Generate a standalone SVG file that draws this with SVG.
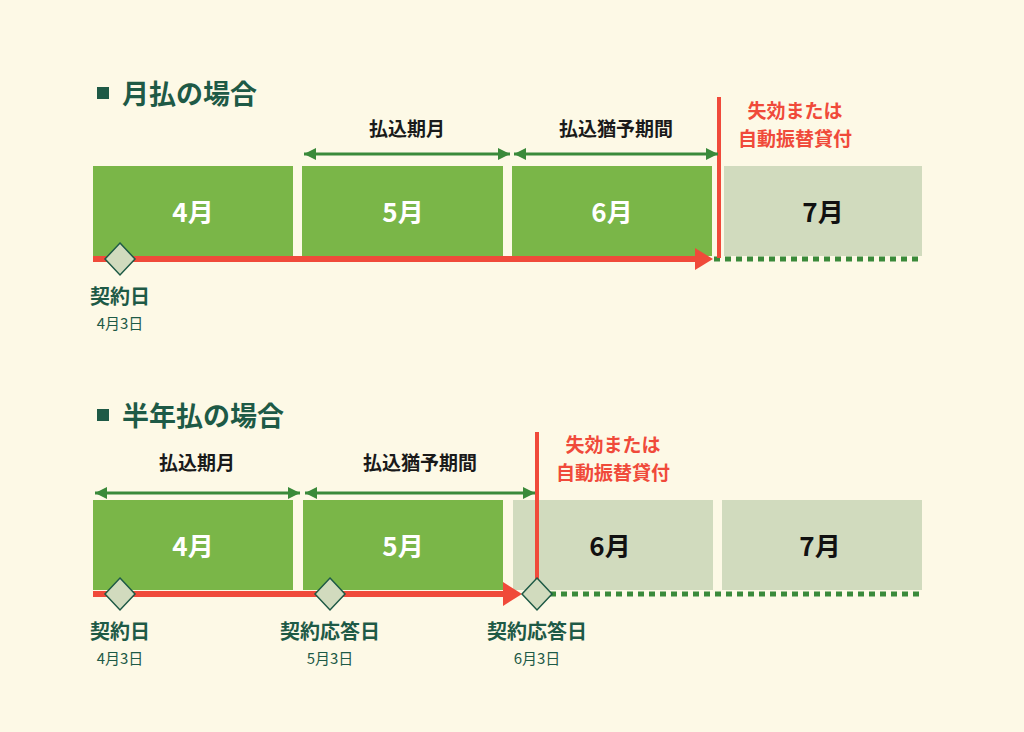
<svg xmlns="http://www.w3.org/2000/svg" width="1024" height="732" viewBox="0 0 1024 732">
<style>
text{font-family:"Noto Sans CJK JP","Liberation Sans",sans-serif;font-weight:bold;text-anchor:middle}
.h{font-size:27px;fill:#1e5a46;text-anchor:start}
.lab{font-size:19px;fill:#1a1a1a}
.red{font-size:19px;fill:#f04a3a}
.mw{font-size:26px;fill:#fff}
.mk{font-size:26px;fill:#111}
.d1{font-size:20px;fill:#1e5a46}
.d2{font-size:15px;fill:#1e5a46;font-weight:normal}
.g{fill:#7ab648}.q{fill:#d1dbbe}
.dia{fill:#d1dbbe;stroke:#1e5a46;stroke-width:1.5}
.dim{stroke:#3a8a3a;stroke-width:3;marker-start:url(#ga);marker-end:url(#ga)}
.dot{stroke:#3a8a3a;stroke-width:5;stroke-dasharray:6 5}
</style>
<defs>
<marker id="ga" viewBox="0 0 10 10" refX="10" refY="5" markerWidth="4" markerHeight="4" orient="auto-start-reverse" markerUnits="strokeWidth"><path d="M0,0L10,5L0,10z" fill="#3a8a3a"/></marker>
</defs>
<rect width="1024" height="732" fill="#fdf9e6"/>
<g id="top">
<rect x="97" y="87" width="12" height="12" fill="#1e5a46"/>
<text class="h" x="122" y="104">月払の場合</text>
<g id="t4"><rect class="g" x="93" y="166" width="200" height="90"/><text class="mw" x="193" y="222">4月</text></g>
<g id="t5"><rect class="g" x="302" y="166" width="201" height="90"/><text class="mw" x="403" y="222">5月</text></g>
<g id="t6"><rect class="g" x="512" y="166" width="200" height="90"/><text class="mw" x="612" y="222">6月</text></g>
<g id="t7"><rect class="q" x="724" y="166" width="198" height="90"/><text class="mk" x="823" y="222">7月</text></g>
<text class="lab" x="407" y="136">払込期月</text>
<text class="lab" x="616" y="136">払込猶予期間</text>
<text class="red" x="795" y="118">失効または</text>
<text class="red" x="795" y="146">自動振替貸付</text>
<text class="d1" x="120" y="304">契約日</text>
<text class="d2" x="120" y="329">4月3日</text>
</g>
<g id="bottom">
<rect x="97" y="409" width="12" height="12" fill="#1e5a46"/>
<text class="h" x="122" y="426">半年払の場合</text>
<g id="b4"><rect class="g" x="93" y="500" width="200" height="90"/><text class="mw" x="193" y="556">4月</text></g>
<g id="b5"><rect class="g" x="303" y="500" width="200" height="90"/><text class="mw" x="403" y="556">5月</text></g>
<g id="b6"><rect class="q" x="513" y="500" width="200" height="90"/><text class="mk" x="610" y="556">6月</text></g>
<g id="b7"><rect class="q" x="722" y="500" width="200" height="90"/><text class="mk" x="820" y="556">7月</text></g>
<text class="lab" x="197" y="470">払込期月</text>
<text class="lab" x="420" y="470">払込猶予期間</text>
<text class="red" x="613" y="452">失効または</text>
<text class="red" x="613" y="480">自動振替貸付</text>
<text class="d1" x="120" y="639">契約日</text>
<text class="d2" x="120" y="664">4月3日</text>
<text class="d1" x="330" y="639">契約応答日</text>
<text class="d2" x="330" y="664">5月3日</text>
<text class="d1" x="537" y="639">契約応答日</text>
<text class="d2" x="537" y="664">6月3日</text>
</g>
<g id="connectors">
<line class="dot" x1="714" y1="259" x2="922" y2="259"/>
<rect x="93" y="256" width="604" height="6" fill="#f04a3a"/>
<path d="M695,248L713,259L695,270z" fill="#f04a3a"/>
<rect x="717" y="97" width="4" height="161" fill="#f04a3a"/>
<line class="dim" x1="304" y1="154" x2="510" y2="154"/>
<line class="dim" x1="514" y1="154" x2="718" y2="154"/>
<path class="dia" d="M120,243L135,259L120,275L105,259z"/>
<line class="dot" x1="550" y1="594" x2="922" y2="594"/>
<rect x="93" y="591" width="412" height="6" fill="#f04a3a"/>
<path d="M503,582L522,594L503,606z" fill="#f04a3a"/>
<rect x="535" y="432" width="4" height="162" fill="#f04a3a"/>
<line class="dim" x1="95" y1="493" x2="300" y2="493"/>
<line class="dim" x1="305" y1="493" x2="535" y2="493"/>
<path class="dia" d="M120,578L135,594L120,610L105,594z"/>
<path class="dia" d="M330,578L345,594L330,610L315,594z"/>
<path class="dia" d="M537,578L552,594L537,610L522,594z"/>
</g>
</svg>
